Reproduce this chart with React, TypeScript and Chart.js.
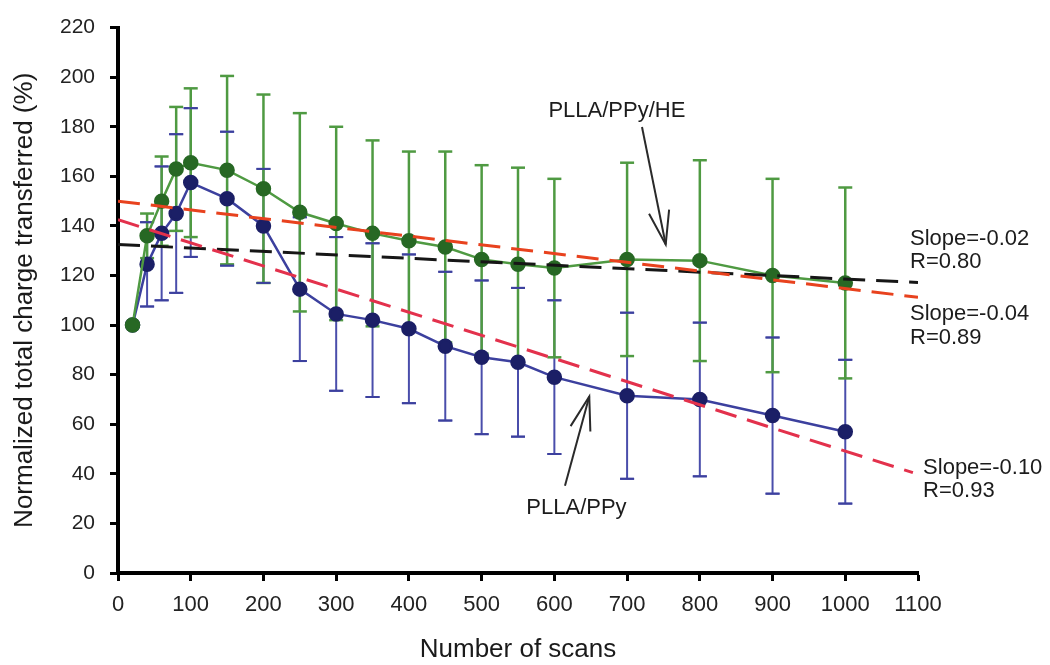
import { useEffect, useRef } from "react";
import { Chart, registerables } from "chart.js";

Chart.register(...registerables);

// Number of scans at which the charge was measured
const scans = [20, 40, 60, 80, 100, 150, 200, 250, 300, 350, 400, 450, 500, 550, 600, 700, 800, 900, 1000];

// PLLA/PPy/HE: normalized total charge transferred (%) and standard deviation
const heValues = [100, 136, 150, 163, 165.5, 162.5, 155, 145.5, 141, 137, 134, 131.5, 126.5, 124.5, 123, 126.5, 126, 120, 117];
const heErrors = [0, 9, 18, 25, 30, 38, 38, 40, 39, 37.5, 36, 38.5, 38, 39, 36, 39, 40.5, 39, 38.5];

// PLLA/PPy: normalized total charge transferred (%) and standard deviation
const ppyValues = [100, 124.5, 137, 145, 157.5, 151, 140, 114.5, 104.5, 102, 98.5, 91.5, 87, 85, 79, 71.5, 70, 63.5, 57];
const ppyErrors = [0, 17, 27, 32, 30, 27, 23, 29, 31, 31, 30, 30, 31, 30, 31, 33.5, 31, 31.5, 29];

// Linear fits (end points in scans / %)
const fitFlatX = [0, 1100];
const fitFlatY = [132.5, 117.2];
const fitHeX = [0, 1100];
const fitHeY = [150, 111.2];
const fitPpyX = [0, 1093];
const fitPpyY = [142.5, 40.5];

// Axis ticks
const xTicks = [0, 100, 200, 300, 400, 500, 600, 700, 800, 900, 1000, 1100];
const yTicks = [0, 20, 40, 60, 80, 100, 120, 140, 160, 180, 200, 220];

// Fit annotations: text lines, anchor (scans, %) of the first baseline
const fitLabels = [
  { lines: ["Slope=-0.02", "R=0.80"], x: 1089, y: 132.5 },
  { lines: ["Slope=-0.04", "R=0.89"], x: 1089, y: 101.9 },
  { lines: ["Slope=-0.10", "R=0.93"], x: 1107, y: 40 },
];

// Series callouts: label position and arrow from/to (scans, %)
const callouts = [
  { text: "PLLA/PPy/HE", tx: 686, ty: 184, from: [720.5, 179.9], to: [753.1, 132.5] },
  { text: "PLLA/PPy", tx: 630.4, ty: 24, from: [614.6, 35.2], to: [648, 71.2] },
];

const FONT = "'Liberation Sans', Arial, Helvetica, sans-serif";

const toPoints = (xs: number[], ys: number[]) => xs.map((v, i) => ({ x: v, y: ys[i] }));

const errorBarPlugin = {
  id: "errorBars",
  beforeDatasetsDraw(chart: any) {
    const { ctx, scales } = chart;
    const xs = scales.x;
    const ys = scales.y;
    const cap = 7;
    const stems = (vals: number[], errs: number[], color: string, w: number) => {
      ctx.save();
      ctx.strokeStyle = color;
      ctx.lineWidth = w;
      vals.forEach((v, i) => {
        if (!errs[i]) return;
        const px = xs.getPixelForValue(scans[i]);
        const top = ys.getPixelForValue(v + errs[i]);
        const bot = ys.getPixelForValue(v - errs[i]);
        ctx.beginPath();
        ctx.moveTo(px, top);
        ctx.lineTo(px, bot);
        ctx.stroke();
      });
      ctx.restore();
    };
    const caps = (vals: number[], errs: number[], color: string, w: number) => {
      ctx.save();
      ctx.strokeStyle = color;
      ctx.lineWidth = w;
      vals.forEach((v, i) => {
        if (!errs[i]) return;
        const px = xs.getPixelForValue(scans[i]);
        [v + errs[i], v - errs[i]].forEach((e) => {
          const py = ys.getPixelForValue(e);
          ctx.beginPath();
          ctx.moveTo(px - cap, py);
          ctx.lineTo(px + cap, py);
          ctx.stroke();
        });
      });
      ctx.restore();
    };
    stems(ppyValues, ppyErrors, "#4a4eab", 2);
    caps(ppyValues, ppyErrors, "#4a4eab", 2);
    stems(heValues, heErrors, "#4f9a42", 2.5);
    caps(heValues, heErrors, "#4f9a42", 2.5);
    // blue caps stay visible where the green bars overlap them
    caps(ppyValues, ppyErrors, "#3c409e", 2);
  },
};

const annotationPlugin = {
  id: "fitAnnotations",
  afterDraw(chart: any) {
    const { ctx, scales } = chart;
    const xs = scales.x;
    const ys = scales.y;
    ctx.save();
    ctx.fillStyle = "#1c1c1c";
    ctx.font = `22px ${FONT}`;
    ctx.textBaseline = "alphabetic";
    ctx.textAlign = "left";
    fitLabels.forEach((l) => {
      const px = xs.getPixelForValue(l.x);
      const py = ys.getPixelForValue(l.y);
      l.lines.forEach((t, k) => ctx.fillText(t, px, py + k * 23.5));
    });
    ctx.textAlign = "center";
    ctx.strokeStyle = "#2a2a2a";
    ctx.lineWidth = 2;
    callouts.forEach((c) => {
      ctx.fillText(c.text, xs.getPixelForValue(c.tx), ys.getPixelForValue(c.ty));
      const x0 = xs.getPixelForValue(c.from[0]);
      const y0 = ys.getPixelForValue(c.from[1]);
      const x1 = xs.getPixelForValue(c.to[0]);
      const y1 = ys.getPixelForValue(c.to[1]);
      ctx.beginPath();
      ctx.moveTo(x0, y0);
      ctx.lineTo(x1, y1);
      ctx.stroke();
      const ang = Math.atan2(y0 - y1, x0 - x1);
      const len = 35;
      const spread = (17 * Math.PI) / 180;
      ctx.beginPath();
      ctx.moveTo(x1 + len * Math.cos(ang - spread), y1 + len * Math.sin(ang - spread));
      ctx.lineTo(x1, y1);
      ctx.lineTo(x1 + len * Math.cos(ang + spread), y1 + len * Math.sin(ang + spread));
      ctx.stroke();
    });
    ctx.restore();
  },
};

export default function App() {
  const canvasRef = useRef<HTMLCanvasElement | null>(null);

  useEffect(() => {
    const canvas = canvasRef.current;
    if (!canvas) return;
    Chart.defaults.font.family = FONT;

    const dashed = {
      borderWidth: 3,
      borderDash: [22, 11],
      pointRadius: 0,
      showLine: true,
      fill: false,
      order: 0,
    };

    const chart = new Chart(canvas, {
      type: "scatter",
      data: {
        datasets: [
          { ...dashed, label: "fit PLLA/PPy", data: toPoints(fitPpyX, fitPpyY), borderColor: "#e3314c" },
          { ...dashed, label: "fit PLLA/PPy/HE", data: toPoints(fitHeX, fitHeY), borderColor: "#e8421e" },
          { ...dashed, label: "fit PLLA/PPy/HE (R=0.80)", data: toPoints(fitFlatX, fitFlatY), borderColor: "#161616" },
          {
            label: "PLLA/PPy/HE",
            data: toPoints(scans, heValues),
            showLine: true,
            borderColor: "#4f9a42",
            borderWidth: 2.5,
            pointRadius: 6.5,
            pointBackgroundColor: "#276824",
            pointBorderColor: "#276824",
            order: 1,
          },
          {
            label: "PLLA/PPy",
            data: toPoints(scans, ppyValues),
            showLine: true,
            borderColor: "#3c409e",
            borderWidth: 2.5,
            pointRadius: 6.5,
            pointBackgroundColor: "#1b1f66",
            pointBorderColor: "#1b1f66",
            order: 2,
          },
        ],
      },
      options: {
        responsive: false,
        animation: false,
        events: [],
        layout: { padding: { left: 0, right: 132, top: 23, bottom: 0 } },
        plugins: {
          legend: { display: false },
          tooltip: { enabled: false },
        },
        scales: {
          x: {
            type: "linear",
            min: 0,
            max: 1100,
            afterBuildTicks: (s: any) => {
              s.ticks = xTicks.map((v) => ({ value: v }));
            },
            afterFit: (s: any) => {
              s.height = 92;
            },
            ticks: {
              color: "#222",
              font: { size: 22 },
              padding: 11,
              maxRotation: 0,
              autoSkip: false,
              callback: (v: any) => String(v),
            },
            grid: { drawOnChartArea: false, drawTicks: true, tickLength: 8, tickWidth: 3, tickColor: "#000" },
            border: { display: true, color: "#000", width: 4 },
            title: {
              display: true,
              text: "Number of scans",
              color: "#1a1a1a",
              font: { size: 26 },
              padding: { top: 0, bottom: 0 },
            },
          },
          y: {
            type: "linear",
            min: 0,
            max: 220,
            afterBuildTicks: (s: any) => {
              s.ticks = yTicks.map((v) => ({ value: v }));
            },
            afterFit: (s: any) => {
              s.width = 118;
            },
            ticks: {
              color: "#222",
              font: { size: 21 },
              padding: 15,
              autoSkip: false,
              callback: (v: any) => String(v),
            },
            grid: { drawOnChartArea: false, drawTicks: true, tickLength: 8, tickWidth: 3, tickColor: "#000" },
            border: { display: true, color: "#000", width: 4 },
            title: {
              display: true,
              text: "Normalized total charge transferred (%)",
              color: "#1a1a1a",
              font: { size: 26 },
              padding: { top: 9, bottom: 0 },
            },
          },
        },
      },
      plugins: [errorBarPlugin, annotationPlugin],
    } as any);

    return () => chart.destroy();
  }, []);

  return (
    <div style={{ position: "fixed", left: 0, top: 0, width: 1050, height: 665, background: "#fff" }}>
      <canvas ref={canvasRef} width={1050} height={665} style={{ display: "block" }} />
    </div>
  );
}
